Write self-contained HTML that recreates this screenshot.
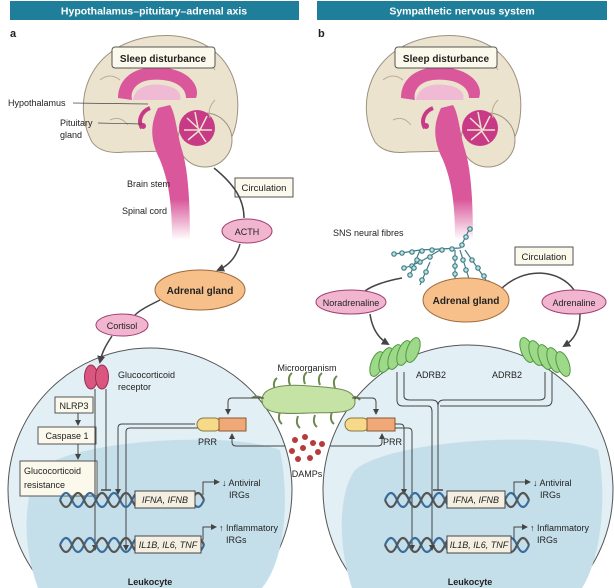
<!DOCTYPE html>
<html><head><meta charset="utf-8"><style>
html,body{margin:0;padding:0;background:#fff;width:614px;height:588px;overflow:hidden}
svg{display:block;overflow:hidden}
text{font-family:"Liberation Sans",sans-serif;fill:#222}
</style></head><body>
<svg width="614" height="588" viewBox="0 0 614 588" xmlns="http://www.w3.org/2000/svg">
<defs>
<marker id="ah" markerWidth="8" markerHeight="8" refX="6" refY="4" orient="auto" markerUnits="userSpaceOnUse"><path d="M0,0 L8,4 L0,8 Z" fill="#444"/></marker>
<marker id="as" markerWidth="6" markerHeight="6" refX="5" refY="3" orient="auto" markerUnits="userSpaceOnUse"><path d="M0,0 L6,3 L0,6 Z" fill="#444"/></marker>
<linearGradient id="fade" x1="0" y1="0" x2="0" y2="1"><stop offset="0.7" stop-color="#d9579a"/><stop offset="1" stop-color="#d9579a" stop-opacity="0"/></linearGradient>
<g id="brain">
  <path d="M92,142 C72,105 85,48 148,37 C205,28 244,62 237,118 C234,140 226,148 214,150 L125,152 C108,154 98,150 92,142 Z" fill="#ece3cf" stroke="#9c927f" stroke-width="1"/>
  <circle cx="205" cy="140" r="27" fill="#ece3cf" stroke="#9c927f"/>
  <circle cx="197" cy="128" r="18" fill="#c93a86"/>
  <path d="M187,118 L200,130 M195,112 L198,128 M207,116 L200,130 M184,130 L212,130 M188,140 L200,130 M206,142 L198,130" stroke="#ece3cf" stroke-width="1.5"/>
  <path d="M118,98 C118,70 150,62 175,70 C192,75 200,88 196,98 L186,98 C186,85 170,78 150,80 C135,82 130,92 132,100 Z" fill="#d9579a"/>
  <path d="M133,100 C135,86 152,82 168,86 C178,88 182,95 180,100 Z" fill="#f0b9d4"/>
  <path d="M158,108 C150,125 150,140 160,160 C168,180 172,200 172,240 L190,240 C190,200 188,170 182,150 C176,130 176,115 170,105 Z" fill="url(#fade)"/>
  <path d="M150,108 C140,112 138,122 142,128" stroke="#c93a86" stroke-width="4" fill="none"/>
  <circle cx="143" cy="126" r="3" fill="#c93a86"/>
  <path d="M100,80 q10,-8 20,0 M200,55 q10,5 15,15 M110,120 q10,-5 18,5 M215,100 q-8,8 -5,18" stroke="#b8ad98" fill="none"/>
</g>
</defs>
<rect x="10" y="1" width="289" height="19" fill="#1f7f9a"/>
<text x="154" y="14.5" text-anchor="middle" font-size="10.5" font-weight="bold" style="fill:#fff">Hypothalamus–pituitary–adrenal axis</text>
<rect x="317" y="1" width="290" height="19" fill="#1f7f9a"/>
<text x="462" y="14.5" text-anchor="middle" font-size="10.5" font-weight="bold" style="fill:#fff">Sympathetic nervous system</text>
<text x="10" y="37" font-size="11" font-weight="bold">a</text>
<text x="318" y="37" font-size="11" font-weight="bold">b</text>

<path d="M47.2,588 A142,142 0 1 1 252.8,588 Z" fill="#e2eff5" stroke="#555" stroke-width="1"/>
<path d="M40,470 C70,440 230,430 280,450 C290,500 285,560 262,588 L38,588 C20,540 25,490 40,470 Z" fill="#c5dfea"/>
<path d="M361.1,588 A145,145 0 1 1 574.9,588 Z" fill="#e2eff5" stroke="#555" stroke-width="1"/>
<path d="M355,470 C390,440 550,430 598,450 C608,500 600,560 582,588 L352,588 C336,540 340,490 355,470 Z" fill="#c5dfea"/>

<use href="#brain"/>
<use href="#brain" transform="translate(283,0)"/>
<rect x="112" y="47" width="103" height="21" rx="3" fill="#fbf8ec" stroke="#555"/>
<text x="163" y="62" text-anchor="middle" font-size="10" font-weight="bold">Sleep disturbance</text>
<rect x="395" y="47" width="102" height="21" rx="3" fill="#fbf8ec" stroke="#555"/>
<text x="446" y="62" text-anchor="middle" font-size="10" font-weight="bold">Sleep disturbance</text>

<text x="8" y="106" font-size="9">Hypothalamus</text>
<line x1="73" y1="103" x2="148" y2="104" stroke="#444" stroke-width="0.7"/>
<text x="60" y="126" font-size="9">Pituitary</text>
<text x="60" y="138" font-size="9">gland</text>
<line x1="98" y1="123" x2="142" y2="124" stroke="#444" stroke-width="0.7"/>
<text x="127" y="187" font-size="9">Brain stem</text>
<text x="122" y="214" font-size="9">Spinal cord</text>
<rect x="235" y="178" width="58" height="19" fill="#fbf8ec" stroke="#555"/>
<text x="264" y="191" text-anchor="middle" font-size="9.5">Circulation</text>
<path d="M214,168 C235,185 244,200 244,218" stroke="#444" stroke-width="1.5" fill="none"/>
<path d="M240,244 C236,258 228,266 218,270" stroke="#444" stroke-width="1.5" fill="none" marker-end="url(#ah)"/>
<ellipse cx="247" cy="231" rx="25" ry="12" fill="#f1b5cf" stroke="#a04070"/>
<text x="247" y="235" text-anchor="middle" font-size="9">ACTH</text>
<ellipse cx="200" cy="290" rx="45" ry="20" fill="#f7c08a" stroke="#a06a3a"/>
<text x="200" y="294" text-anchor="middle" font-size="10" font-weight="bold">Adrenal gland</text>
<path d="M160,300 C148,306 140,310 135,315" stroke="#444" stroke-width="1.5" fill="none"/>
<ellipse cx="122" cy="325" rx="26" ry="11" fill="#f1b5cf" stroke="#a04070"/>
<text x="122" y="329" text-anchor="middle" font-size="9">Cortisol</text>
<path d="M112,336 C106,345 102,352 100,362" stroke="#444" stroke-width="1.5" fill="none" marker-end="url(#ah)"/>

<ellipse cx="91" cy="377" rx="6.5" ry="12" fill="#d9577f" stroke="#9a2d55"/>
<ellipse cx="102" cy="377" rx="6.5" ry="12" fill="#d9577f" stroke="#9a2d55"/>
<text x="118" y="378" font-size="9">Glucocorticoid</text>
<text x="118" y="390" font-size="9">receptor</text>
<rect x="55" y="397" width="38" height="16" fill="#fbf8ec" stroke="#555"/>
<text x="74" y="409" text-anchor="middle" font-size="9">NLRP3</text>
<line x1="78" y1="413" x2="78" y2="425" stroke="#444" marker-end="url(#as)"/>
<rect x="38" y="427" width="58" height="17" fill="#fbf8ec" stroke="#555"/>
<text x="67" y="439" text-anchor="middle" font-size="9">Caspase 1</text>
<line x1="78" y1="444" x2="78" y2="459" stroke="#444" marker-end="url(#as)"/>
<rect x="20" y="461" width="77" height="35" fill="#fbf8ec" stroke="#555"/>
<text x="24" y="474" font-size="9">Glucocorticoid</text>
<text x="24" y="488" font-size="9">resistance</text>
<line x1="95" y1="389" x2="95" y2="550" stroke="#444" marker-end="url(#as)"/>
<line x1="106" y1="389" x2="106" y2="490" stroke="#444"/>
<line x1="101" y1="490" x2="111" y2="490" stroke="#444" stroke-width="1.5"/>
<path d="M195,424 L122,424 Q118,424 118,428 L118,494" stroke="#444" fill="none" marker-end="url(#as)"/>
<path d="M199,428 L130,428 Q126,428 126,432 L126,550" stroke="#444" fill="none" marker-end="url(#as)"/>

<text x="307" y="371" text-anchor="middle" font-size="9">Microorganism</text>
<g stroke="#6e8a50" stroke-width="2" fill="none">
<path d="M275,390 q-3,-8 2,-12 M290,385 q-3,-8 2,-12 M305,384 q-3,-8 2,-12 M320,385 q-3,-8 2,-12 M335,388 q-3,-8 2,-12 M280,412 q-3,8 2,12 M298,416 q-3,8 2,12 M315,415 q-3,8 2,12 M332,412 q-3,8 2,12 M262,398 q-6,-3 -10,0 M350,398 q6,-3 10,2"/>
</g>
<path d="M262,400 C262,385 290,384 310,386 C335,388 355,388 355,402 C355,415 330,412 310,413 C285,414 262,415 262,400 Z" fill="#c6e3a6" stroke="#6e8a50"/>
<path d="M264,398 L232,398 Q228,398 228,402 L228,414" stroke="#444" fill="none" marker-end="url(#as)"/>
<path d="M352,398 L372,398 Q376,398 376,402 L376,414" stroke="#444" fill="none" marker-end="url(#as)"/>
<rect x="197" y="418" width="24" height="13" rx="6.5" fill="#f7d98a" stroke="#8a7a40"/>
<rect x="219" y="418" width="27" height="13" fill="#f0a878" stroke="#8a5a30"/>
<text x="198" y="445" font-size="9">PRR</text>
<rect x="345" y="418" width="24" height="13" rx="6.5" fill="#f7d98a" stroke="#8a7a40"/>
<rect x="367" y="418" width="28" height="13" fill="#f0a878" stroke="#8a5a30"/>
<text x="383" y="445" font-size="9">PRR</text>
<g fill="#b83a3a"><circle cx="295" cy="440" r="3"/><circle cx="305" cy="437" r="3"/><circle cx="313" cy="443" r="3"/><circle cx="292" cy="451" r="3"/><circle cx="303" cy="448" r="3"/><circle cx="318" cy="452" r="3"/><circle cx="298" cy="459" r="3"/><circle cx="310" cy="458" r="3"/><circle cx="322" cy="444" r="3"/></g>
<text x="307" y="477" text-anchor="middle" font-size="9">DAMPs</text>
<path d="M285,446 L236,446 Q232,446 232,442 L232,434" stroke="#444" fill="none" marker-end="url(#as)"/>
<path d="M330,446 L378,446 Q382,446 382,442 L382,434" stroke="#444" fill="none" marker-end="url(#as)"/>
<path d="M395,424 L400,424 Q404,424 404,428 L404,494" stroke="#444" fill="none" marker-end="url(#as)"/>
<path d="M395,428 L408,428 Q412,428 412,432 L412,550" stroke="#444" fill="none" marker-end="url(#as)"/>

<g fill="none" stroke-width="2.2">
<path d="M60,500 q6,-14 12,0 t12,0 t12,0 t12,0 t12,0 t12,0 t12,0 t12,0 t12,0 t12,0 t12,0 t12,0" stroke="#3a6d99"/>
<path d="M60,500 q6,14 12,0 t12,0 t12,0 t12,0 t12,0 t12,0 t12,0 t12,0 t12,0 t12,0 t12,0 t12,0" stroke="#555"/>
<path d="M60,545 q6,-14 12,0 t12,0 t12,0 t12,0 t12,0 t12,0 t12,0 t12,0 t12,0 t12,0 t12,0 t12,0" stroke="#3a6d99"/>
<path d="M60,545 q6,14 12,0 t12,0 t12,0 t12,0 t12,0 t12,0 t12,0 t12,0 t12,0 t12,0 t12,0 t12,0" stroke="#555"/>
<path d="M385,500 q6,-14 12,0 t12,0 t12,0 t12,0 t12,0 t12,0 t12,0 t12,0 t12,0 t12,0 t12,0 t12,0" stroke="#3a6d99"/>
<path d="M385,500 q6,14 12,0 t12,0 t12,0 t12,0 t12,0 t12,0 t12,0 t12,0 t12,0 t12,0 t12,0 t12,0" stroke="#555"/>
<path d="M385,545 q6,-14 12,0 t12,0 t12,0 t12,0 t12,0 t12,0 t12,0 t12,0 t12,0 t12,0 t12,0 t12,0" stroke="#3a6d99"/>
<path d="M385,545 q6,14 12,0 t12,0 t12,0 t12,0 t12,0 t12,0 t12,0 t12,0 t12,0 t12,0 t12,0 t12,0" stroke="#555"/>
</g>
<rect x="135" y="491" width="60" height="17" fill="#f4efe0" stroke="#444"/>
<text x="165" y="503" text-anchor="middle" font-size="9" font-style="italic">IFNA, IFNB</text>
<rect x="135" y="536" width="66" height="17" fill="#f4efe0" stroke="#444"/>
<text x="168" y="548" text-anchor="middle" font-size="9" font-style="italic">IL1B, IL6, TNF</text>
<rect x="447" y="491" width="58" height="17" fill="#f4efe0" stroke="#444"/>
<text x="476" y="503" text-anchor="middle" font-size="9" font-style="italic">IFNA, IFNB</text>
<rect x="447" y="536" width="64" height="17" fill="#f4efe0" stroke="#444"/>
<text x="479" y="548" text-anchor="middle" font-size="9" font-style="italic">IL1B, IL6, TNF</text>

<path d="M203,495 L203,482 L219,482" stroke="#444" fill="none" marker-end="url(#as)"/>
<text x="222" y="486" font-size="9">↓ Antiviral</text><text x="229" y="498" font-size="9">IRGs</text>
<path d="M203,540 L203,527 L216,527" stroke="#444" fill="none" marker-end="url(#as)"/>
<text x="219" y="531" font-size="9">↑ Inflammatory</text><text x="226" y="543" font-size="9">IRGs</text>
<path d="M514,495 L514,482 L530,482" stroke="#444" fill="none" marker-end="url(#as)"/>
<text x="533" y="486" font-size="9">↓ Antiviral</text><text x="540" y="498" font-size="9">IRGs</text>
<path d="M514,540 L514,527 L527,527" stroke="#444" fill="none" marker-end="url(#as)"/>
<text x="530" y="531" font-size="9">↑ Inflammatory</text><text x="537" y="543" font-size="9">IRGs</text>
<text x="150" y="585" text-anchor="middle" font-size="9" font-weight="bold">Leukocyte</text>
<text x="470" y="585" text-anchor="middle" font-size="9" font-weight="bold">Leukocyte</text>

<text x="333" y="236" font-size="9">SNS neural fibres</text>
<g stroke="#3f7d86" stroke-width="1.2" fill="#bfe0e2">
<path d="M470,228 L460,248 L420,250 L395,254 M440,250 L420,262 L405,268 M420,250 L410,275 M455,250 L455,285 M460,250 L470,282 M465,250 L488,283 M430,262 L420,285" fill="none"/>
<g>
<circle cx="470" cy="229" r="2.2"/><circle cx="466" cy="237" r="2.2"/><circle cx="462" cy="245" r="2.2"/><circle cx="452" cy="249" r="2.2"/><circle cx="442" cy="250" r="2.2"/><circle cx="432" cy="250" r="2.2"/><circle cx="422" cy="251" r="2.2"/><circle cx="412" cy="252" r="2.2"/><circle cx="402" cy="253" r="2.2"/><circle cx="394" cy="254" r="2.2"/>
<circle cx="430" cy="257" r="2.2"/><circle cx="420" cy="262" r="2.2"/><circle cx="412" cy="266" r="2.2"/><circle cx="404" cy="268" r="2.2"/>
<circle cx="417" cy="260" r="2.2"/><circle cx="414" cy="268" r="2.2"/><circle cx="410" cy="275" r="2.2"/>
<circle cx="455" cy="258" r="2.2"/><circle cx="455" cy="266" r="2.2"/><circle cx="455" cy="274" r="2.2"/><circle cx="455" cy="284" r="2.2"/>
<circle cx="463" cy="260" r="2.2"/><circle cx="466" cy="270" r="2.2"/><circle cx="470" cy="282" r="2.2"/>
<circle cx="472" cy="260" r="2.2"/><circle cx="478" cy="268" r="2.2"/><circle cx="484" cy="276" r="2.2"/><circle cx="488" cy="283" r="2.2"/>
<circle cx="426" cy="272" r="2.2"/><circle cx="422" cy="280" r="2.2"/>
</g></g>
<rect x="515" y="247" width="58" height="18" fill="#fbf8ec" stroke="#555"/>
<text x="544" y="260" text-anchor="middle" font-size="9.5">Circulation</text>
<path d="M402,278 C380,282 368,288 364,292" stroke="#444" stroke-width="1.5" fill="none"/>
<path d="M500,290 C525,265 560,270 574,290" stroke="#444" stroke-width="1.5" fill="none"/>
<ellipse cx="466" cy="300" rx="43" ry="22" fill="#f7c08a" stroke="#a06a3a"/>
<text x="466" y="304" text-anchor="middle" font-size="10" font-weight="bold">Adrenal gland</text>
<ellipse cx="351" cy="302" rx="35" ry="12" fill="#f1b5cf" stroke="#a04070"/>
<text x="351" y="306" text-anchor="middle" font-size="9">Noradrenaline</text>
<ellipse cx="574" cy="302" rx="32" ry="12" fill="#f1b5cf" stroke="#a04070"/>
<text x="574" y="306" text-anchor="middle" font-size="9">Adrenaline</text>
<path d="M370,314 C372,328 378,338 388,344" stroke="#444" stroke-width="1.5" fill="none" marker-end="url(#ah)"/>
<path d="M580,314 C580,330 574,340 564,346" stroke="#444" stroke-width="1.5" fill="none" marker-end="url(#ah)"/>
<g fill="#9ed98a" stroke="#4f9a40">
<ellipse cx="377" cy="364" rx="6" ry="13" transform="rotate(20 377 364)"/><ellipse cx="386" cy="360" rx="6" ry="13" transform="rotate(20 386 360)"/><ellipse cx="395" cy="357" rx="6" ry="13" transform="rotate(20 395 357)"/><ellipse cx="404" cy="353" rx="6" ry="13" transform="rotate(20 404 353)"/><ellipse cx="413" cy="350" rx="6" ry="13" transform="rotate(20 413 350)"/>
<ellipse cx="527" cy="350" rx="6" ry="13" transform="rotate(-20 527 350)"/><ellipse cx="536" cy="353" rx="6" ry="13" transform="rotate(-20 536 353)"/><ellipse cx="545" cy="357" rx="6" ry="13" transform="rotate(-20 545 357)"/><ellipse cx="554" cy="360" rx="6" ry="13" transform="rotate(-20 554 360)"/><ellipse cx="563" cy="364" rx="6" ry="13" transform="rotate(-20 563 364)"/>
</g>
<text x="416" y="378" font-size="9">ADRB2</text>
<text x="492" y="378" font-size="9">ADRB2</text>
<g stroke="#444" fill="none">
<path d="M397,372 L397,400 Q397,406 403,406 L428,406 Q432,406 432,412 L432,550" marker-end="url(#as)"/>
<path d="M404,372 L404,396 Q404,400 410,400 L432,400 Q438,400 438,406"/>
<path d="M545,372 L545,396 Q545,400 539,400 L444,400 Q438,400 438,406 L438,490"/>
<line x1="433" y1="490" x2="443" y2="490" stroke-width="1.5"/>
<path d="M552,372 L552,400 Q552,406 546,406 L440,406"/>
</g>
</svg>
</body></html>
